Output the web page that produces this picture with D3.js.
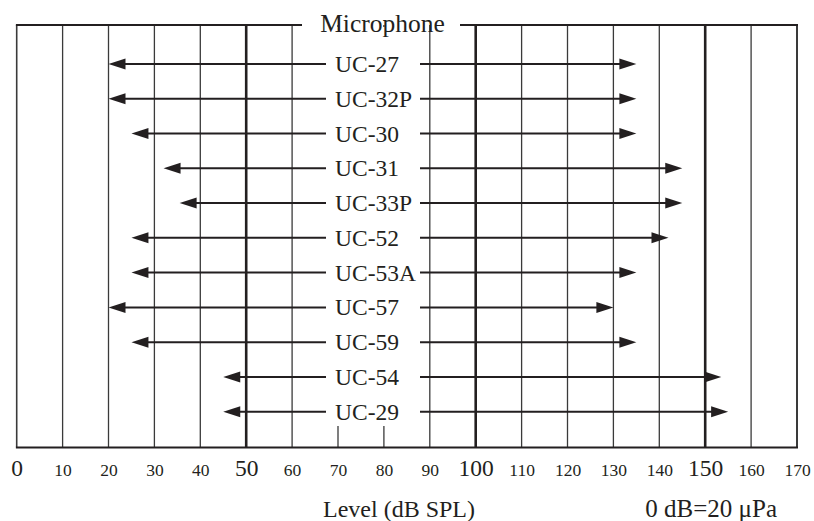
<!DOCTYPE html>
<html>
<head>
<meta charset="utf-8">
<script src="https://cdn.jsdelivr.net/npm/d3@7"></script>
<style>
  html, body { margin: 0; padding: 0; background: #fff; }
  svg { display: block; }
  text { font-family: "Liberation Serif", "Times New Roman", serif; fill: #231f20; }
</style>
</head>
<body>
<svg id="chart" width="814" height="521"></svg>
<script>
// ---- data ----
const microphones = ["UC-27","UC-32P","UC-30","UC-31","UC-33P","UC-52","UC-53A","UC-57","UC-59","UC-54","UC-29"];
const lowLevel    = [20, 20, 25, 32, 35.5, 25, 25, 20, 25, 45, 45];
const highLevel   = [135, 135, 135, 145, 145, 142, 135, 130, 135, 153.5, 155];
const tickValues  = [0,10,20,30,40,50,60,70,80,90,100,110,120,130,140,150,160,170];
const majorTicks  = [0, 50, 100, 150];
const titleText   = "Microphone";
const xLabel      = "Level (dB SPL)";
const refLabel    = "0 dB=20 μPa";

const svg = d3.select("#chart");
const ink = "#231f20";

const x = d3.scaleLinear().domain([0, 170]).range([16.7, 797]);
const y = d3.scalePoint().domain(microphones).range([64, 411.7]);
const plotTop = 25, plotBottom = 447.5;
const colL = 326, colR = 420, colBottom = 426;

// gridlines
svg.append("g").selectAll("line").data(tickValues).join("line")
  .attr("x1", d => x(d)).attr("x2", d => x(d))
  .attr("y1", plotTop).attr("y2", plotBottom)
  .attr("stroke", d => majorTicks.includes(d) && d !== 0 ? ink : "#3a3a3a")
  .attr("stroke-width", d => (d === 0 ? 1.6 : d === 170 ? 2 : majorTicks.includes(d) ? 2.6 : 1.3));

// top border (broken by title)
svg.append("line").attr("x1", x(0) - 0.8).attr("x2", 302).attr("y1", plotTop).attr("y2", plotTop)
  .attr("stroke", ink).attr("stroke-width", 2);
svg.append("line").attr("x1", 460).attr("x2", x(170) + 1).attr("y1", plotTop).attr("y2", plotTop)
  .attr("stroke", ink).attr("stroke-width", 2);
// bottom axis line
svg.append("line").attr("x1", x(0) - 0.8).attr("x2", x(170) + 1).attr("y1", plotBottom).attr("y2", plotBottom)
  .attr("stroke", ink).attr("stroke-width", 2.2);

// arrows
const rows = microphones.map((m, i) => ({ name: m, lo: lowLevel[i], hi: highLevel[i] }));
const headLen = 17, headHalf = 5.5;
const ag = svg.append("g");
ag.selectAll("line.shaft").data(rows).join("line").attr("class", "shaft")
  .attr("x1", d => x(d.lo) + headLen - 2).attr("x2", d => x(d.hi) - headLen + 2)
  .attr("y1", d => y(d.name)).attr("y2", d => y(d.name))
  .attr("stroke", ink).attr("stroke-width", 2);
ag.selectAll("path.left").data(rows).join("path").attr("class", "left")
  .attr("d", d => { const tx = x(d.lo), ty = y(d.name);
    return `M${tx},${ty} L${tx + headLen},${ty - headHalf} L${tx + headLen},${ty + headHalf} Z`; })
  .attr("fill", ink);
ag.selectAll("path.right").data(rows).join("path").attr("class", "right")
  .attr("d", d => { const tx = x(d.hi), ty = y(d.name);
    return `M${tx},${ty} L${tx - headLen},${ty - headHalf} L${tx - headLen},${ty + headHalf} Z`; })
  .attr("fill", ink);

// white label column
svg.append("rect").attr("x", colL).attr("y", plotTop + 2).attr("width", colR - colL).attr("height", colBottom - plotTop - 2)
  .attr("fill", "#fff");

// labels
svg.append("g").selectAll("text").data(rows).join("text")
  .attr("x", 335).attr("y", d => y(d.name) + 8)
  .attr("font-size", 23.5)
  .text(d => d.name);

// title
svg.append("text").attr("x", 382.5).attr("y", 31.5).attr("text-anchor", "middle")
  .attr("font-size", 25.5).text(titleText);

// tick labels via axis
const axis = d3.axisBottom(x).tickValues(tickValues).tickSize(0).tickPadding(0).tickFormat(d3.format("d"));
const axG = svg.append("g").attr("transform", `translate(0, ${plotBottom})`).call(axis);
axG.select(".domain").remove();
axG.selectAll("text")
  .attr("dy", null)
  .attr("y", 28.5)
  .attr("font-family", "Liberation Serif, serif")
  .attr("font-size", d => majorTicks.includes(d) ? 23.5 : 17.5)
  .attr("fill", ink);

// axis titles
svg.append("text").attr("x", 399).attr("y", 517).attr("text-anchor", "middle")
  .attr("font-size", 24).text(xLabel);
svg.append("text").attr("x", 777).attr("y", 517).attr("text-anchor", "end")
  .attr("font-size", 25).text(refLabel);
</script>
</body>
</html>
